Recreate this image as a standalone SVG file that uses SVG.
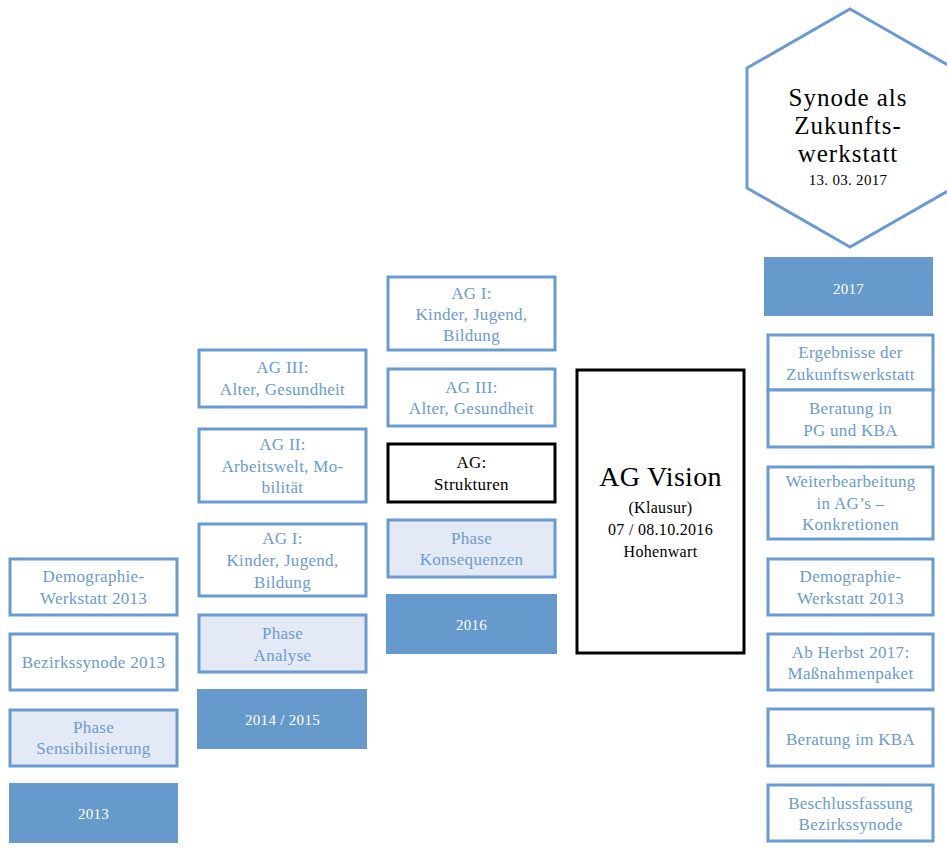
<svg xmlns="http://www.w3.org/2000/svg" width="947" height="856" viewBox="0 0 947 856">
<style>
.b{fill:#fff;stroke:#6a9bd0;stroke-width:3}
.p{fill:#e3e9f5;stroke:#6a9bd0;stroke-width:3}
.y{fill:#6699cc;stroke:none}
.k{fill:#fff;stroke:#000;stroke-width:3}
text{font-family:"Liberation Serif","DejaVu Serif",serif;text-anchor:middle;font-size:17px;letter-spacing:0.3px}
.t{fill:#6a9bd0}
.w{fill:#fff;font-size:15px}
.d{fill:#000}
.s{font-size:16px}
.h{font-size:25px;letter-spacing:1px}
</style>
<rect width="947" height="856" fill="#fff"/>
<g id="connectors"></g>
<!-- column 1 -->
<g id="c1-demo"><rect class="b" x="10" y="559" width="167" height="56"/><text class="t" x="93.5" y="582">Demographie-</text><text class="t" x="93.5" y="604">Werkstatt 2013</text></g>
<g id="c1-bez"><rect class="b" x="10" y="634" width="167" height="56"/><text class="t" x="93.5" y="668">Bezirkssynode 2013</text></g>
<g id="c1-phase"><rect class="p" x="10" y="710" width="167" height="56"/><text class="t" x="93.5" y="733">Phase</text><text class="t" x="93.5" y="754">Sensibilisierung</text></g>
<g id="c1-year"><rect class="y" x="9" y="783" width="169" height="60"/><text class="w" x="93.5" y="819">2013</text></g>
<!-- column 2 -->
<g id="c2-ag3"><rect class="b" x="199" y="350" width="167" height="57"/><text class="t" x="282.5" y="373">AG III:</text><text class="t" x="282.5" y="395">Alter, Gesundheit</text></g>
<g id="c2-ag2"><rect class="b" x="199" y="429" width="167" height="73"/><text class="t" x="282.5" y="450">AG II:</text><text class="t" x="282.5" y="472">Arbeitswelt, Mo-</text><text class="t" x="282.5" y="493">bilität</text></g>
<g id="c2-ag1"><rect class="b" x="199" y="524" width="167" height="72"/><text class="t" x="282.5" y="544">AG I:</text><text class="t" x="282.5" y="566">Kinder, Jugend,</text><text class="t" x="282.5" y="588">Bildung</text></g>
<g id="c2-phase"><rect class="p" x="199" y="615" width="167" height="57"/><text class="t" x="282.5" y="639">Phase</text><text class="t" x="282.5" y="661">Analyse</text></g>
<g id="c2-year"><rect class="y" x="197" y="689" width="170" height="60"/><text class="w" x="282.5" y="725">2014 / 2015</text></g>
<!-- column 3 -->
<g id="c3-ag1"><rect class="b" x="388" y="277" width="167" height="73"/><text class="t" x="471.5" y="299">AG I:</text><text class="t" x="471.5" y="320">Kinder, Jugend,</text><text class="t" x="471.5" y="341">Bildung</text></g>
<g id="c3-ag3"><rect class="b" x="388" y="369" width="167" height="57"/><text class="t" x="471.5" y="393">AG III:</text><text class="t" x="471.5" y="414">Alter, Gesundheit</text></g>
<g id="c3-str"><rect class="k" x="388" y="444" width="167" height="58"/><text class="d" x="471.5" y="468">AG:</text><text class="d" x="471.5" y="490">Strukturen</text></g>
<g id="c3-phase"><rect class="p" x="388" y="520" width="167" height="57"/><text class="t" x="471.5" y="544">Phase</text><text class="t" x="471.5" y="565">Konsequenzen</text></g>
<g id="c3-year"><rect class="y" x="386" y="594" width="171" height="60"/><text class="w" x="471.5" y="630">2016</text></g>
<!-- center -->
<g id="vision"><rect class="k" x="577" y="370" width="167" height="283"/><text class="d" x="660.5" y="486" style="font-size:28px">AG Vision</text><text class="d s" x="660.5" y="513">(Klausur)</text><text class="d s" x="660.5" y="535">07 / 08.10.2016</text><text class="d s" x="660.5" y="557">Hohenwart</text></g>
<!-- right -->
<g id="hex"><polygon points="850,9 953,68 953,188 850,247 747,188 747,68" fill="#fff" stroke="#6a9bd0" stroke-width="3"/><text class="d h" x="848" y="106">Synode als</text><text class="d h" x="848" y="134">Zukunfts-</text><text class="d h" x="848" y="162">werkstatt</text><text class="d" x="848" y="185" style="font-size:15px">13. 03. 2017</text></g>
<g id="r-year"><rect class="y" x="764" y="257" width="169" height="59"/><text class="w" x="848.5" y="294">2017</text></g>
<g id="r-erg"><rect class="b" x="768" y="335" width="165" height="55"/><text class="t" x="850.5" y="358">Ergebnisse der</text><text class="t" x="850.5" y="380">Zukunftswerkstatt</text></g>
<g id="r-ber"><rect class="b" x="768" y="390" width="165" height="57"/><text class="t" x="850.5" y="414">Beratung in</text><text class="t" x="850.5" y="436">PG und KBA</text></g>
<g id="r-wei"><rect class="b" x="768" y="467" width="165" height="72"/><text class="t" x="850.5" y="487">Weiterbearbeitung</text><text class="t" x="850.5" y="509">in AG’s –</text><text class="t" x="850.5" y="530">Konkretionen</text></g>
<g id="r-demo"><rect class="b" x="768" y="559" width="165" height="56"/><text class="t" x="850.5" y="582">Demographie-</text><text class="t" x="850.5" y="604">Werkstatt 2013</text></g>
<g id="r-herbst"><rect class="b" x="768" y="634" width="165" height="56"/><text class="t" x="850.5" y="658">Ab Herbst 2017:</text><text class="t" x="850.5" y="679">Maßnahmenpaket</text></g>
<g id="r-kba"><rect class="b" x="768" y="709" width="165" height="57"/><text class="t" x="850.5" y="745">Beratung im KBA</text></g>
<g id="r-beschl"><rect class="b" x="768" y="785" width="165" height="56"/><text class="t" x="850.5" y="809">Beschlussfassung</text><text class="t" x="850.5" y="830">Bezirkssynode</text></g>
</svg>
